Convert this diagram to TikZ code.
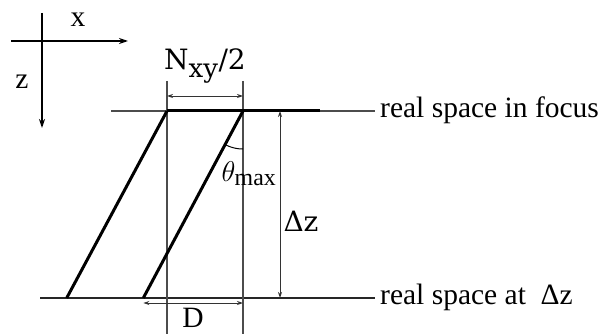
\documentclass[tikz,border=0pt]{standalone}
\usepackage{fontspec}
\setmainfont{Liberation Serif}
\newfontfamily\labfont{DejaVu Serif}
\usetikzlibrary{arrows.meta}
\tikzset{
  thinln/.style={line width=1.1pt, draw=black!70},
  thickln/.style={line width=3pt, draw=black},
  axisln/.style={line width=1.3pt, draw=black, -{Stealth[length=9pt,width=6pt]}},
  dimln/.style={line width=0.9pt, draw=black!80, {Stealth[length=6pt,width=4pt]}-{Stealth[length=6pt,width=4pt]}},
  lab/.style={inner sep=0pt, font=\fontsize{29.5}{32}\selectfont},
  dlab/.style={inner sep=0pt, font=\labfont\fontsize{28}{30}\selectfont},
}
\begin{document}
\begin{tikzpicture}[x=1pt,y=-1pt]
\useasboundingbox (0,0) rectangle (602,334);
% axes
\coordinate (ax0) at (11,41);
\coordinate (ax1) at (128,41);
\coordinate (az0) at (42,13);
\coordinate (az1) at (42,128);
\draw[axisln] (ax0) -- (ax1);
\draw[axisln] (az0) -- (az1);
\node[lab] (xl) at (78,20) {x};
\node[lab] (zl) at (22,82) {z};
% key points
\coordinate (t1) at (167,111);
\coordinate (t2) at (243,111);
\coordinate (b1) at (66.7,298);
\coordinate (b2) at (143.3,298);
% horizontal lines
\coordinate (tl0) at (111,111);
\coordinate (tl1) at (375,111);
\coordinate (tk1) at (320,111);
\coordinate (bl0) at (40,298);
\coordinate (bl1) at (375,298);
\draw[thinln] (tl0) -- (tl1);
\draw[thinln, draw=black!85] (bl0) -- (bl1);
% vertical guides
\coordinate (v1a) at (167,81);
\coordinate (v1b) at (167,334);
\coordinate (v2a) at (243,81);
\coordinate (v2b) at (243,334);
\draw[thinln] (v1a) -- (v1b);
\draw[thinln] (v2a) -- (v2b);
% thick lines
\draw[thickln] (t1) -- (tk1);
\draw[thickln] (t1) -- (b1);
\draw[thickln] (t2) -- (b2);
% angle arc
\draw[line width=1pt] plot[domain=90:118.1, samples=20] ({243+38*cos(\x)},{111+38*sin(\x)});
\node[inner sep=0pt] (th) at (249,174) {\scalebox{1.15}{\fontsize{24.88}{28}\selectfont$\theta_{\mathrm{max}}$}};
% dimension lines
\coordinate (n1) at (167,96);
\coordinate (n2) at (243,96);
\draw[dimln] (n1) -- (n2);
\node[dlab] (nl) at (205,66) {N\textsubscript{\raisebox{-0.5ex}{\fontsize{26}{28}\selectfont xy}}/2};
\coordinate (dz1) at (280,111);
\coordinate (dz2) at (280,298);
\draw[dimln] (dz1) -- (dz2);
\node[dlab] (dzl) at (301,221) {Δz};
\coordinate (d1) at (143.3,303);
\coordinate (d2) at (243,303);
\draw[dimln] (d1) -- (d2);
\node[lab] (dl) at (193,318) {D};
% right labels
\node[lab, anchor=west] (rf) at (380,110) {real space in focus};
\node[lab, anchor=west] (ra) at (380,297) {real space at\enspace Δz};
\end{tikzpicture}
\end{document}
